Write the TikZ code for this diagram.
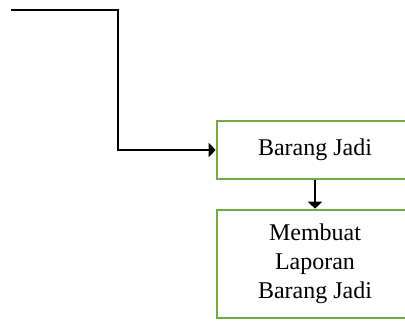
\documentclass[tikz,border=0pt]{standalone}
\usepackage{fontspec}
\setmainfont{Liberation Serif}
\usetikzlibrary{arrows.meta}
\definecolor{hijau}{RGB}{112,173,71}
\begin{document}
\begin{tikzpicture}[x=0.5pt,y=-0.5pt,>={Triangle[length=3.5pt,width=7pt]}, font=\fontsize{12}{14.5}\selectfont, line join=miter,
	kotak/.style={draw=hijau,line width=1.3pt,minimum width=98pt,align=center,inner sep=0pt}]
	\useasboundingbox (0,0) rectangle (405,320);
	\coordinate (awal) at (11,10);
	\coordinate (belok) at (118,10);
	\node[kotak,minimum height=29pt] (jadi) at (315,150) {Barang Jadi};
	\node[kotak,minimum height=54pt] (laporan) at (315,264) {Membuat\\Laporan\\Barang Jadi};
	\draw[->,line width=0.7pt] (awal)--(belok) |- (jadi.west);
	\draw[->,line width=0.7pt] (jadi)--(laporan);
\end{tikzpicture}
\end{document}
